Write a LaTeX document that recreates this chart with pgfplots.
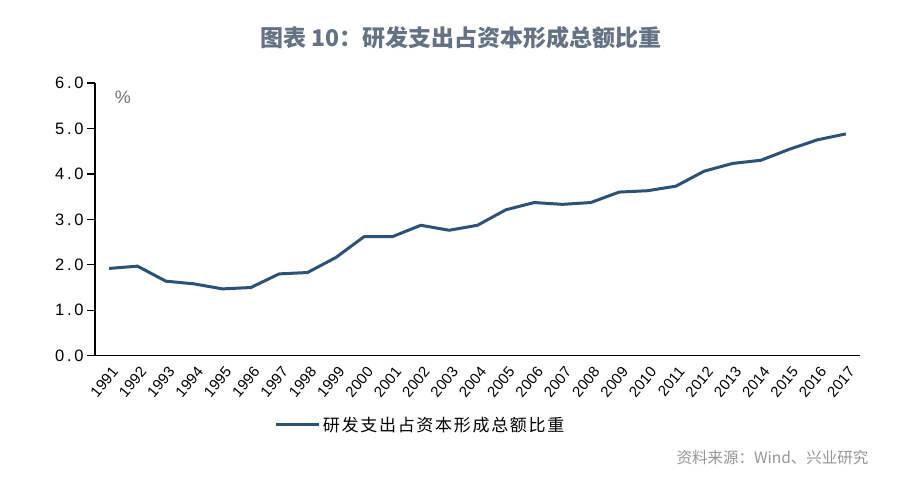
\documentclass[border=0pt]{standalone}
\usepackage{pgfplots}
\pgfplotsset{compat=1.18}
\usepackage{fontspec}
\setmainfont{Liberation Sans}
\newfontfamily\cjk{Noto Sans CJK SC}
\newfontfamily\legcjk[LetterSpace=10]{Noto Sans CJK SC}
\newfontfamily\tickfont[LetterSpace=16]{Liberation Sans}
\definecolor{linec}{RGB}{44,82,120}
\definecolor{titlec}{RGB}{100,114,132}
\definecolor{srcc}{RGB}{150,150,150}
\begin{document}
\begin{tikzpicture}[x=1pt,y=1pt]
\path[use as bounding box, fill=white] (0,0) rectangle (900,483);
\node[font=\cjk\bfseries\fontsize{23}{28}\selectfont, text=titlec] at (461,445) {图表 10：研发支出占资本形成总额比重};
\begin{axis}[
  at={(95pt,127.3pt)}, anchor=south west,
  scale only axis, width=765pt, height=272.7pt,
  xmin=-0.5, xmax=26.5, ymin=0, ymax=6,
  axis x line=bottom, axis y line=left,
  axis line style={line width=1.5pt, black, -},
  xtick={0,...,26},
  xticklabels={1991,1992,1993,1994,1995,1996,1997,1998,1999,2000,2001,2002,2003,2004,2005,2006,2007,2008,2009,2010,2011,2012,2013,2014,2015,2016,2017},
  minor xtick={-0.5,0.5,...,26.5},
  x tick style={draw=none},
  minor x tick style={line width=1.2pt, black},
  minor tick length=6pt,
  ytick={0,1,...,6},
  y tick style={line width=1.2pt, black},
  major tick length=8pt,
  tick align=outside,
  xticklabel style={font=\fontsize{15}{17}\selectfont, rotate=50, anchor=east, yshift=-8pt, xshift=3pt},
  yticklabel style={font=\tickfont\fontsize{16.5}{18}\selectfont, /pgf/number format/.cd, fixed, fixed zerofill, precision=1, assume math mode=true},
  legend style={at={(0.235,-0.254)}, anchor=west, draw=none, fill=none, font=\legcjk\fontsize{17}{20}\selectfont, inner sep=0pt},
  legend image code/.code={\draw[#1] (0pt,0pt) -- (43pt,0pt);},
  clip=false,
]
\addplot[color=linec, line width=3pt, line join=round] coordinates {
(0,1.92) (1,1.97) (2,1.64) (3,1.58) (4,1.47) (5,1.50) (6,1.80) (7,1.83) (8,2.16) (9,2.62) (10,2.62) (11,2.87) (12,2.76) (13,2.87) (14,3.21) (15,3.37) (16,3.33) (17,3.37) (18,3.60) (19,3.63) (20,3.73) (21,4.06) (22,4.23) (23,4.30) (24,4.54) (25,4.75) (26,4.88)
};
\addlegendentry{研发支出占资本形成总额比重}
\end{axis}
\node[font=\fontsize{18}{20}\selectfont, text=black!55] at (123,386) {\%};
\node[font=\cjk\fontsize{15.5}{18}\selectfont, text=srcc, anchor=east] at (872,25) {资料来源：Wind、兴业研究};
\end{tikzpicture}
\end{document}
